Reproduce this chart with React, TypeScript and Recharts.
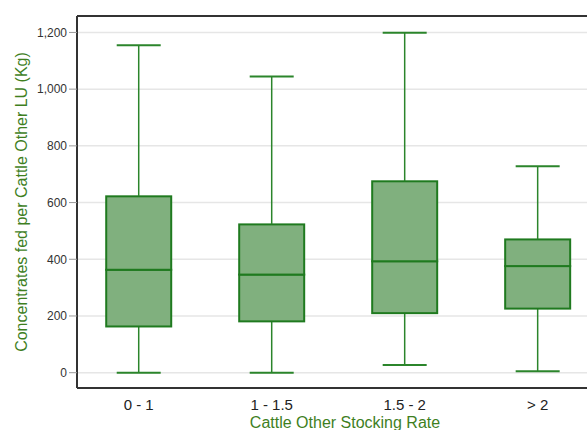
import { BarChart, Bar, XAxis, YAxis, CartesianGrid, ReferenceLine, Label } from 'recharts'

const categories = ['0 - 1', '1 - 1.5', '1.5 - 2', '> 2']
const minValues = [0, 0, 27, 5]
const q1Values = [163, 181, 210, 226]
const medianValues = [363, 346, 393, 376]
const q3Values = [622, 523, 675, 470]
const maxValues = [1155, 1045, 1199, 728]
const yTicks = [0, 200, 400, 600, 800, 1000, 1200]

const Y_DOMAIN: [number, number] = [-54, 1258]
const X_DOMAIN: [number, number] = [-0.464, 3.371]

const BOX_FILL = '#80b07e'
const BOX_STROKE = '#1f7a1f'
const WHISKER = '#2b852b'
const TEXT_GREEN = '#3f7f1f'
const FONT = "'Liberation Sans', Arial, sans-serif"

// each box is a stack: hidden base, lower whisker, lower box, upper box, upper whisker
const rows = categories.map((c, i) => ({
  pos: i,
  name: c,
  base: minValues[i],
  lowWhisker: q1Values[i] - minValues[i],
  lowBox: medianValues[i] - q1Values[i],
  highBox: q3Values[i] - medianValues[i],
  highWhisker: maxValues[i] - q3Values[i],
}))

const capRatio = 44 / 65

const LowWhisker = (props: any) => {
  const { x, y, width, height } = props
  const cx = x + width / 2
  const cap = width * capRatio
  return (
    <g>
      <line x1={cx} x2={cx} y1={y} y2={y + height} stroke={WHISKER} strokeWidth={1.5} />
      <line x1={cx - cap / 2} x2={cx + cap / 2} y1={y + height} y2={y + height} stroke={WHISKER} strokeWidth={2} />
    </g>
  )
}

const HighWhisker = (props: any) => {
  const { x, y, width, height } = props
  const cx = x + width / 2
  const cap = width * capRatio
  return (
    <g>
      <line x1={cx} x2={cx} y1={y} y2={y + height} stroke={WHISKER} strokeWidth={1.5} />
      <line x1={cx - cap / 2} x2={cx + cap / 2} y1={y} y2={y} stroke={WHISKER} strokeWidth={2} />
    </g>
  )
}

const BoxPart = (props: any) => {
  const { x, y, width, height } = props
  return <rect x={x} y={y} width={width} height={height} fill={BOX_FILL} stroke={BOX_STROKE} strokeWidth={2} />
}

const YTitle = (props: any) => {
  const vb = props.viewBox || { x: 0, y: 0, height: 0 }
  const cx = 21
  const cy = vb.y + vb.height / 2
  return (
    <text x={cx} y={cy} transform={`rotate(-90, ${cx}, ${cy})`} textAnchor="middle" dominantBaseline="central"
      fill={TEXT_GREEN} fontSize={16} fontFamily={FONT}>
      Concentrates fed per Cattle Other LU (Kg)
    </text>
  )
}

const XTitle = (props: any) => {
  const vb = props.viewBox || { x: 0, y: 0, width: 0 }
  return (
    <text x={345} y={vb.y + 40} textAnchor="middle" fill={TEXT_GREEN} fontSize={16} fontFamily={FONT}>
      Cattle Other Stocking Rate
    </text>
  )
}

export default function App() {
  return (
    <div style={{ position: 'absolute', left: 0, top: 0, width: 587, height: 430, overflow: 'hidden', background: '#fff' }}>
      <BarChart width={587} height={430} data={rows} margin={{ top: 16, right: 0, bottom: 0, left: 0 }} barSize={65}>
        <CartesianGrid vertical={false} stroke="#e6e6e6" strokeWidth={1.5} />
        <XAxis
          dataKey="pos"
          type="number"
          domain={X_DOMAIN}
          allowDataOverflow
          ticks={[0, 1, 2, 3]}
          tickFormatter={(v: number) => categories[v]}
          tickLine={false}
          tickMargin={5}
          height={42}
          axisLine={{ stroke: '#333', strokeWidth: 2 }}
          tick={{ fill: '#222', fontSize: 15, fontFamily: FONT }}
        >
          <Label content={<XTitle />} />
        </XAxis>
        <YAxis
          type="number"
          domain={Y_DOMAIN}
          allowDataOverflow
          ticks={yTicks}
          width={77}
          tickSize={8}
          tickFormatter={(v: number) => v.toLocaleString('en-US')}
          tickLine={{ stroke: '#999' }}
          axisLine={{ stroke: '#333', strokeWidth: 2 }}
          tick={{ fill: '#333', fontSize: 12, fontFamily: FONT }}
        >
          <Label content={<YTitle />} />
        </YAxis>
        <ReferenceLine y={Y_DOMAIN[1]} stroke="#333" strokeWidth={2} />
        <Bar dataKey="base" stackId="box" fill="transparent" isAnimationActive={false} />
        <Bar dataKey="lowWhisker" stackId="box" shape={<LowWhisker />} isAnimationActive={false} />
        <Bar dataKey="lowBox" stackId="box" shape={<BoxPart />} isAnimationActive={false} />
        <Bar dataKey="highBox" stackId="box" shape={<BoxPart />} isAnimationActive={false} />
        <Bar dataKey="highWhisker" stackId="box" shape={<HighWhisker />} isAnimationActive={false} />
      </BarChart>
    </div>
  )
}
